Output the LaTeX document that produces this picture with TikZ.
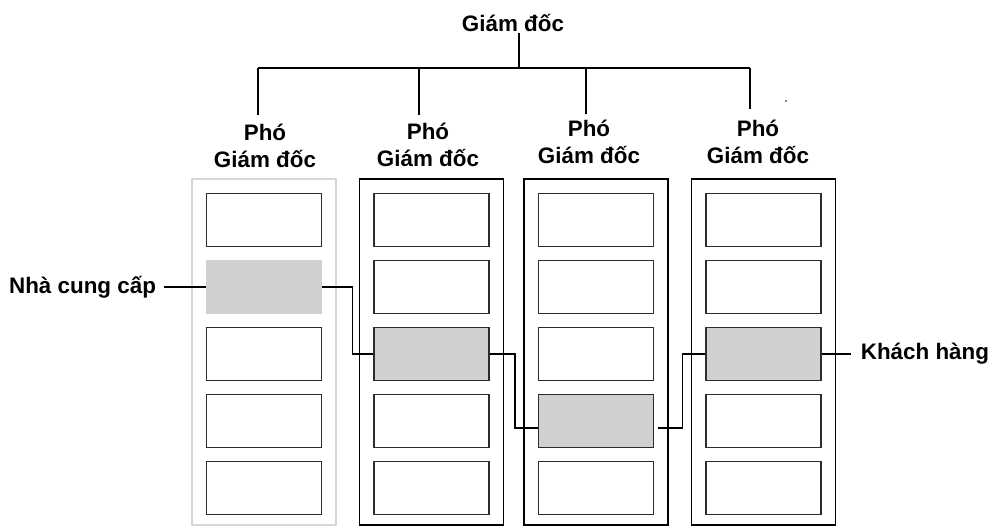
\documentclass[tikz,border=0pt]{standalone}
\usepackage{fontspec}
\setmainfont{Liberation Sans}
\usetikzlibrary{positioning,calc}
\definecolor{cellgray}{RGB}{208,208,208}
\definecolor{palegray}{RGB}{214,214,214}
\definecolor{inkgray}{RGB}{45,45,45}
\tikzset{
  lbl/.style={font=\fontsize{16.8}{20.25}\selectfont\bfseries,inner sep=1pt,align=center},
  dept/.style={rectangle,draw,line width=1.1pt,minimum width=108pt,
               minimum height=259.5pt,inner sep=0pt},
  cell/.style={rectangle,draw=inkgray,line width=1.4pt,minimum width=86.25pt,
               minimum height=39.75pt,inner sep=0pt},
  soft/.style={fill=cellgray,draw=cellgray},
  hard/.style={fill=cellgray},
  plain/.style={},
  link/.style={line width=1.1pt},
}
\begin{document}
\begin{tikzpicture}[x=0.75pt,y=-0.75pt]
  \useasboundingbox (0,0) rectangle (994,527);

  % director and the bar below him
  \node[lbl] (GD) at (513,23) {Giám đốc};
  \coordinate (hub) at (519,68);
  \draw[link] (GD.south -| hub) -- (hub);

  % departments with their cells
  \foreach \i/\cx/\a/\hl/\bc in {1/264/2/soft/palegray,2/431.5/3/hard/black,
                                  3/596/4/hard/black,4/763.5/3/hard/black}{
    \node[dept,draw=\bc] (col\i) at (\cx,352) {};
    \foreach \r in {1,...,5}{
      \ifnum\r=\a \def\cs{\hl}\else\def\cs{plain}\fi
      \node[cell,\cs] (c\i-\r) at (\cx,{220+67*(\r-1)}) {};
    }
  }

  % deputies
  \node[lbl] (P1) at (265,146) {Phó\\Giám đốc};
  \node[lbl] (P2) at (428,145) {Phó\\Giám đốc};
  \node[lbl] (P3) at (589,142) {Phó\\Giám đốc};
  \node[lbl] (P4) at (758,142) {Phó\\Giám đốc};
  \coordinate (d1) at (258,115);
  \coordinate (d2) at (419,115);
  \coordinate (d3) at (586,114);
  \coordinate (d4) at (750,109);
  \draw[link] (d1 |- hub) -- (d4 |- hub);
  \foreach \i in {1,...,4}
    \draw[link] (d\i |- hub) -- (d\i);
  \fill (786,101) circle (0.9);

  % supplier to customer chain
  \node[lbl,left=36pt of c1-2] (supp) {Nhà cung cấp};
  \node[lbl,right=28pt of c4-3] (cust) {Khách hàng};
  \draw[link] ([xshift=4.5pt]supp.east) -- (c1-2.west);
  \draw[link] (c1-2.east) -- ++(30,0) |- (c2-3.west);
  \draw[link] (c2-3.east) -- ++(25,0) |- ($(c3-4.west)+(0,7)$);
  \draw[link] ($(c3-4.east)+(4,7)$) -- ++(24,0) |- (c4-3.west);
  \draw[link] (c4-3.east) -- ([xshift=-6pt]cust.west);
\end{tikzpicture}
\end{document}
